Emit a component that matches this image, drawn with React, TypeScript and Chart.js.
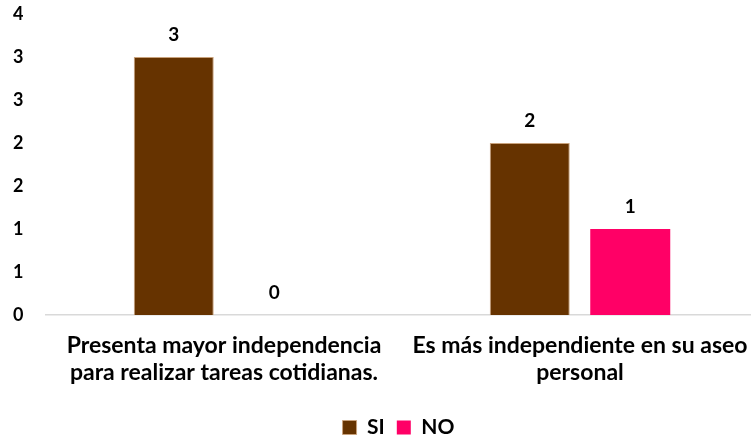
import React, { useEffect, useRef } from "react";
import { Chart, registerables } from "chart.js";

Chart.register(...registerables);

const categories: string[][] = [
  ["Presenta mayor independencia", "para realizar tareas cotidianas."],
  ["Es más independiente en su aseo", "personal"],
];
const siValues = [3, 2];
const noValues = [0, 1];
const seriesNames = ["SI", "NO"];

const FONT = "Lato, 'Open Sans', sans-serif";

const valueLabels = {
  id: "valueLabels",
  afterDatasetsDraw(chart: any) {
    const ctx = chart.ctx;
    ctx.save();
    ctx.font = `bold 19px ${FONT}`;
    ctx.fillStyle = "#000";
    ctx.textAlign = "center";
    ctx.textBaseline = "middle";
    chart.data.datasets.forEach((ds: any, i: number) => {
      const meta = chart.getDatasetMeta(i);
      meta.data.forEach((bar: any, j: number) => {
        ctx.fillText(String(ds.data[j]), bar.x, bar.y - 22);
      });
    });
    ctx.restore();
  },
};

// The source plot area runs slightly past the right edge of the image.
const extendX = {
  id: "extendX",
  afterLayout(chart: any) {
    const x = chart.scales.x;
    x.right = chart.width + 7;
    x.width = x.right - x.left;
    x.configure();
  },
};

export default function App() {
  const ref = useRef<HTMLCanvasElement>(null);
  useEffect(() => {
    if (!ref.current) return;
    const chart = new Chart(ref.current, {
      type: "bar",
      data: {
        labels: categories,
        datasets: [
          {
            label: seriesNames[0],
            data: siValues,
            backgroundColor: "#663300",
            borderColor: "#c9a27c",
            borderWidth: 1,
            barPercentage: 0.796,
            categoryPercentage: 0.5646,
          },
          {
            label: seriesNames[1],
            data: noValues,
            backgroundColor: "#FF0066",
            borderWidth: 0,
            barPercentage: 0.796,
            categoryPercentage: 0.5646,
          },
        ],
      },
      options: {
        animation: false,
        responsive: false,
        maintainAspectRatio: false,
        layout: { padding: { left: 13, right: 0, top: 14, bottom: -11 } },
        plugins: {
          tooltip: { enabled: false },
          legend: {
            position: "bottom",
            fullSize: false,
            labels: {
              boxWidth: 14,
              boxHeight: 14,
              padding: 12,
              color: "#000",
              font: { family: FONT, size: 21, weight: "bold" },
            },
          },
        },
        scales: {
          x: {
            grid: { display: false, drawTicks: false },
            border: { display: true, color: "#d9d9d9", width: 1.5 },
            afterFit: (s: any) => {
              s.height = 90;
              s.paddingLeft = 0;
              s.paddingRight = 0;
            },
            ticks: {
              color: "#000",
              font: { family: FONT, size: 23, weight: "bold", lineHeight: 1.18 },
              maxRotation: 0,
              autoSkip: false,
              padding: 17,
            },
          },
          y: {
            min: 0,
            max: 3.5,
            grid: { display: false, drawTicks: false },
            border: { display: false },
            afterFit: (s: any) => {
              s.width = 33;
            },
            ticks: {
              stepSize: 0.5,
              color: "#000",
              padding: 0,
              crossAlign: "far",
              font: { family: FONT, size: 18, weight: "bold" },
              callback: (v: any) => String(Math.round(Number(v))),
            },
          },
        },
      },
      plugins: [extendX, valueLabels],
    });
    return () => chart.destroy();
  }, []);
  return (
    <div style={{ position: "fixed", left: 0, top: 0, width: 751, height: 437, background: "#fff" }}>
      <canvas ref={ref} width={751} height={437} />
    </div>
  );
}
